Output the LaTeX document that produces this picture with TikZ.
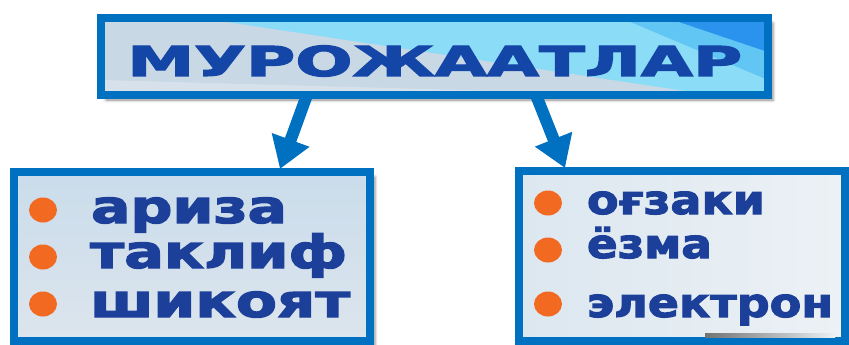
\documentclass[tikz,border=0pt]{standalone}
\usepackage{fontspec}
\setmainfont{DejaVu Sans}[BoldFeatures={FakeBold=2.5}]
\usetikzlibrary{arrows.meta,shadows.blur,shapes.geometric,calc}
\definecolor{bordblue}{HTML}{0070C0}
\definecolor{titleblue}{HTML}{1446A8}
\definecolor{textblue}{HTML}{1C3F9A}
\definecolor{bulletor}{HTML}{F26A22}
\definecolor{topbase}{HTML}{C9D8E5}
\definecolor{topcyan}{HTML}{8ADCF7}
\definecolor{topmid}{HTML}{62C6F5}
\definecolor{topbright}{HTML}{2A93EE}
\definecolor{lbfillA}{HTML}{CADCEB}
\definecolor{lbfillB}{HTML}{DCE5ED}
\definecolor{rbfillA}{HTML}{DCE7F0}
\definecolor{rbfillB}{HTML}{ECF1F5}
\newcommand{\fitw}[2]{\resizebox{#1}{\height}{#2}}
\begin{document}
\begin{tikzpicture}[x=1pt,y=-1pt,
  boxframe/.style={draw=bordblue, line width=8pt, inner sep=0pt, outer sep=0pt,
    anchor=north west, rectangle,
    blur shadow={shadow xshift=5pt, shadow yshift=-5pt, shadow blur radius=3pt, shadow opacity=45}},
  listword/.style={anchor=base west, inner sep=0pt, outer sep=0pt, text=textblue},
  bigword/.style={listword, font=\fontsize{45.7}{50}\selectfont\bfseries},
  smallword/.style={listword, font=\fontsize{40.2}{46}\selectfont\bfseries},
  dot/.style={ellipse, fill=bulletor, draw=none, minimum width=28pt, minimum height=25pt, inner sep=0pt},
  bluearrow/.style={draw=bordblue, line width=12pt, -{Triangle[width=38pt,length=31pt]}}
]
\useasboundingbox (0,0) rectangle (849,345);

% top box
\node[boxframe, minimum width=667pt, minimum height=77pt, fill=topbase,
  path picture={
    \coordinate (pnw) at (path picture bounding box.north west);
    \fill[topcyan] ($(pnw)+(99,0)$) -- ($(pnw)+(667,0)$) -- ($(pnw)+(667,77)$) -- ($(pnw)+(611,77)$) -- cycle;
    \fill[topmid] ($(pnw)+(520,0)$) -- ($(pnw)+(667,0)$) -- ($(pnw)+(667,62)$) -- cycle;
    \fill[topbright] ($(pnw)+(566,0)$) -- ($(pnw)+(667,0)$) -- ($(pnw)+(667,34)$) -- cycle;
    \fill[white, opacity=0.25] ($(pnw)+(0,62)$) -- ($(pnw)+(540,77)$) -- ($(pnw)+(0,77)$) -- cycle;
  }] (top) at (101,18) {};
\node[anchor=base west, inner sep=0pt, text=titleblue, font=\fontsize{41.2}{48}\selectfont\bfseries]
  (title) at (127,76) {\fitw{615pt}{МУРОЖААТЛАР}};

% left box
\node[boxframe, minimum width=356pt, minimum height=169pt, top color=lbfillA, bottom color=lbfillB] (lb) at (14,172) {};
% right box
\node[boxframe, minimum width=326pt, minimum height=170pt, left color=rbfillA, right color=rbfillB] (rb) at (519,171) {};
\shade[left color=black!55, right color=rbfillB] (705,333) rectangle (835,337);

% left list
\node[dot] (lb1) at (43,210) {};
\node[dot] (lb2) at (43,257) {};
\node[dot] (lb3) at (43,304) {};
\node[bigword] (w1) at (91,223) {\fitw{196pt}{ариза}};
\node[bigword] (w2) at (90,268) {\fitw{257pt}{таклиф}};
\node[bigword] (w3) at (90,317) {\fitw{260pt}{шикоят}};

% right list
\node[dot] (rb1) at (548,203) {};
\node[dot] (rb2) at (548,250) {};
\node[dot] (rb3) at (548,304) {};
\node[smallword] (v1) at (587,214) {\fitw{178pt}{оғзаки}};
\node[smallword] (v2) at (587,258) {\fitw{125pt}{ёзма}};
\node[smallword] (v3) at (587,317) {\fitw{246pt}{электрон}};

% arrows
\draw[bluearrow] ([xshift=206pt]top.south west) -- ([xshift=266pt,yshift=3pt]lb.north west);
\draw[bluearrow] ([xshift=435pt]top.south west) -- ([xshift=46pt,yshift=3pt]rb.north west);
\end{tikzpicture}
\end{document}
